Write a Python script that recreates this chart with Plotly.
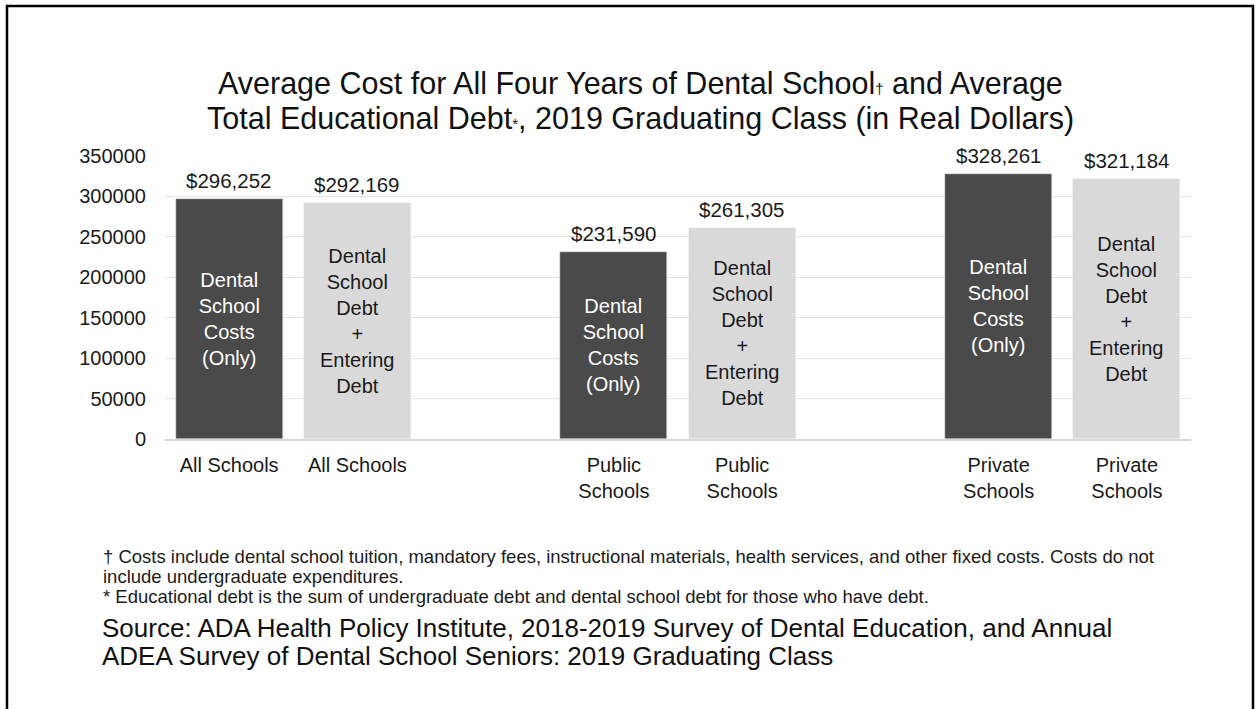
import plotly.graph_objects as go

# Data: average cost vs. average total educational debt, 2019 graduating class
groups = ["All Schools", "Public<br>Schools", "Private<br>Schools"]
cost_values = [296252, 231590, 328261]
debt_values = [292169, 261305, 321184]
cost_label = "Dental<br>School<br>Costs<br>(Only)"
debt_label = "Dental<br>School<br>Debt<br>+<br>Entering<br>Debt"

y_ticks = [0, 50000, 100000, 150000, 200000, 250000, 300000, 350000]

title_lines = [
    "Average Cost for All Four Years of Dental School<span style=\"font-size:15px\">†</span> and Average",
    "Total Educational Debt<span style=\"font-size:15px\">*</span>, 2019 Graduating Class (in Real Dollars)",
]
footnotes = [
    "† Costs include dental school tuition, mandatory fees, instructional materials, health services, and other fixed costs. Costs do not",
    "include undergraduate expenditures.",
    "* Educational debt is the sum of undergraduate debt and dental school debt for those who have debt.",
]
source_lines = [
    "Source: ADA Health Policy Institute, 2018-2019 Survey of Dental Education, and Annual",
    "ADEA Survey of Dental School Seniors: 2019 Graduating Class",
]

DARK = "#4a4a4a"
LIGHT = "#d9d9d9"
TEXT = "#1a1a1a"
FONT = "Liberation Sans, Arial, sans-serif"

W, H = 1257, 709
ML, MR, MT, MB = 165, 66, 156, 270

# each group occupies two slots followed by an empty spacer slot
cost_x = [3 * i for i in range(len(groups))]
debt_x = [3 * i + 1 for i in range(len(groups))]

fig = go.Figure()
fig.add_trace(go.Bar(
    x=cost_x, y=cost_values, width=0.834, marker_color=DARK,
    text=[cost_label] * len(groups), textposition="inside",
    insidetextanchor="middle", textangle=0,
    insidetextfont=dict(color="white", size=20, family=FONT),
    hoverinfo="y", showlegend=False,
))
fig.add_trace(go.Bar(
    x=debt_x, y=debt_values, width=0.834, marker_color=LIGHT,
    text=[debt_label] * len(groups), textposition="inside",
    insidetextanchor="middle", textangle=0,
    insidetextfont=dict(color=TEXT, size=20, family=FONT),
    hoverinfo="y", showlegend=False,
))

annotations = []
# value labels above each bar
for xs, vals in ((cost_x, cost_values), (debt_x, debt_values)):
    for xv, v in zip(xs, vals):
        annotations.append(dict(
            x=xv, y=v, xref="x", yref="y", text=f"${v:,}", showarrow=False,
            yanchor="bottom", yshift=5, font=dict(size=20.5, color=TEXT, family=FONT),
        ))

def px_x(p):
    return (p - ML) / (W - ML - MR)

def px_y(p):
    return 1 - (p - MT) / (H - MT - MB)

for i, line in enumerate(title_lines):
    annotations.append(dict(
        x=px_x(640), y=px_y(84 + 35 * i), xref="paper", yref="paper", text=line,
        showarrow=False, xanchor="center", yanchor="middle",
        font=dict(size=30.5, color="#111111", family=FONT),
    ))
for i, line in enumerate(footnotes):
    annotations.append(dict(
        x=px_x(101), y=px_y(556 + 20 * i), xref="paper", yref="paper", text=line,
        showarrow=False, xanchor="left", yanchor="middle",
        font=dict(size=18.5, color=TEXT, family=FONT),
    ))
for i, line in enumerate(source_lines):
    annotations.append(dict(
        x=px_x(100), y=px_y(628 + 28 * i), xref="paper", yref="paper", text=line,
        showarrow=False, xanchor="left", yanchor="middle",
        font=dict(size=26, color="#111111", family=FONT),
    ))

fig.update_layout(
    width=W, height=H,
    margin=dict(l=ML, r=MR, t=MT, b=MB, pad=0),
    paper_bgcolor="white", plot_bgcolor="white",
    font=dict(family=FONT, color=TEXT),
    bargap=0,
    annotations=annotations,
    shapes=[dict(
        type="rect", xref="paper", yref="paper",
        x0=px_x(7), x1=px_x(1253), y0=px_y(720), y1=px_y(6),
        line=dict(color="black", width=2.5), fillcolor="rgba(0,0,0,0)", layer="above",
    )],
)
fig.update_xaxes(
    range=[-0.5, 7.5], tickmode="array",
    tickvals=cost_x + debt_x, ticktext=groups + groups,
    showgrid=False, zeroline=False, showline=True, linecolor="#d9d9d9", linewidth=1.5,
    ticks="", tickfont=dict(size=20, color=TEXT, family=FONT), ticklabelstandoff=7,
)
fig.update_yaxes(
    range=[0, 350000], tickmode="array", tickvals=y_ticks,
    ticktext=[str(t) for t in y_ticks],
    showgrid=True, gridcolor="#e3e3e3", gridwidth=1.2, zeroline=False,
    showline=False, ticks="", tickfont=dict(size=20, color=TEXT, family=FONT),
    ticklabelstandoff=18,
)

fig.write_html("out.html")
